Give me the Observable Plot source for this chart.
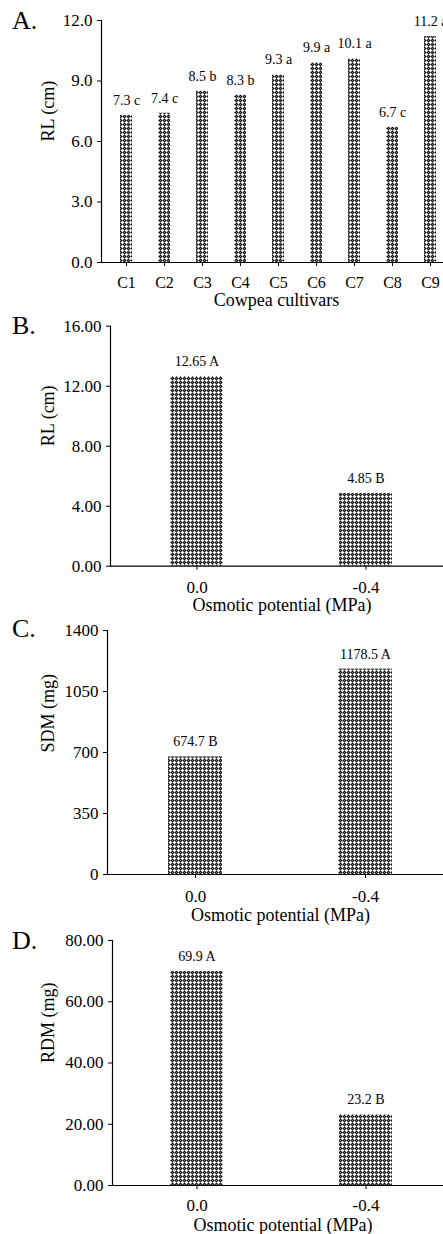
<!DOCTYPE html>
<html><head><meta charset="utf-8">
<script src="https://cdn.jsdelivr.net/npm/d3@7"></script>
<script src="https://cdn.jsdelivr.net/npm/@observablehq/plot@0.6"></script>
<style>
html,body{margin:0;padding:0;background:#fff;}
#root{position:relative;width:443px;height:1234px;overflow:hidden;font-family:"Liberation Serif","Times New Roman",serif;color:#000;}
.panel{position:absolute;left:0;}
.tag{position:absolute;left:12px;font-size:26px;line-height:1;}
</style></head><body><div id="root"></div>
<script>
// ---- data ----
const cultivars = ["C1","C2","C3","C4","C5","C6","C7","C8","C9"];
const rlCultivar = [7.3, 7.4, 8.5, 8.3, 9.3, 9.9, 10.1, 6.7, 11.2];
const rlCultivarGroups = ["c","c","b","b","a","a","a","c","a"];
const osmotic = ["0.0", "-0.4"];
const rlOsmotic = [12.65, 4.85];
const rlOsmoticGroups = ["A", "B"];
const sdmOsmotic = [674.7, 1178.5];
const sdmOsmoticGroups = ["B", "A"];
const rdmOsmotic = [69.9, 23.2];
const rdmOsmoticGroups = ["A", "B"];
const ticksA = [0, 3, 6, 9, 12];
const ticksB = [0, 4, 8, 12, 16];
const ticksC = [0, 350, 700, 1050, 1400];
const ticksD = [0, 20, 40, 60, 80];

const FONT = '"Liberation Serif","Times New Roman",serif';
const root = document.getElementById("root");

function addPattern(svg, id) {
  const defs = d3.select(svg).insert("defs", ":first-child");
  const p = defs.append("pattern").attr("id", id)
    .attr("patternUnits", "userSpaceOnUse").attr("width", 4).attr("height", 4);
  p.append("rect").attr("width", 4).attr("height", 4).attr("fill", "#141414");
  const light = [];
  for (let yy = 0; yy < 4; yy++) for (let xx = 0; xx < 4; xx++) if ((xx + yy) % 2 === 0) light.push([xx, yy]);
  p.selectAll("rect.l").data(light).join("rect").attr("class", "l")
    .attr("x", d => d[0]).attr("y", d => d[1]).attr("width", 1).attr("height", 1)
    .attr("fill", "#707070").attr("shape-rendering", "crispEdges");
  const plus = [[2,1],[1,2],[2,2],[3,2],[2,3]];
  p.selectAll("rect.w").data(plus).join("rect").attr("class", "w")
    .attr("x", d => d[0]).attr("y", d => d[1]).attr("width", 1).attr("height", 1)
    .attr("fill", "#f4f4f4").attr("shape-rendering", "crispEdges");
}

function panel(cfg) {
  const rows = cfg.cats.map((c, i) => ({cat: c, val: cfg.vals[i], lab: cfg.vals[i].toFixed(cfg.digits) + " " + cfg.groups[i]}));
  const svg = Plot.plot({
    width: 443, height: cfg.height,
    marginTop: cfg.mt, marginBottom: cfg.mb, marginLeft: cfg.ml, marginRight: 0,
    style: {fontFamily: FONT, background: "transparent", overflow: "visible", color: "#000"},
    x: {type: "band", domain: cfg.cats, paddingInner: cfg.pi, paddingOuter: cfg.po, align: cfg.align},
    y: {domain: [cfg.ticks[0], cfg.ticks[cfg.ticks.length - 1]]},
    marks: [
      Plot.barY(rows, {x: "cat", y: "val", fill: `url(#${cfg.id})`}),
      Plot.text(rows, {x: "cat", y: "val", text: "lab", dy: -15, fontSize: 14, fill: "#000"}),
      Plot.ruleY([0], {stroke: "#000", strokeWidth: 1.2}),
      Plot.frame({anchor: "left", stroke: "#000", strokeWidth: 1.2}),
      Plot.axisY({ticks: cfg.ticks, tickFormat: cfg.fmt, tickSize: 4, tickPadding: cfg.tpy, label: null, fontSize: 17}),
      Plot.axisX({tickSize: 4, tickPadding: cfg.tpx, label: null, fontSize: cfg.xFont}),
      Plot.text([cfg.yLabel], {frameAnchor: "left", rotate: -90, dx: 47.5 - cfg.ml, fontSize: 18, fill: "#000"}),
      Plot.text([cfg.xLabel], {frameAnchor: "bottom", dx: cfg.xdx, dy: cfg.xdy, fontSize: 18, fill: "#000"})
    ]
  });
  addPattern(svg, cfg.id);
  const div = document.createElement("div");
  div.className = "panel";
  div.style.top = cfg.top + "px";
  div.appendChild(svg);
  root.appendChild(div);
  const tag = document.createElement("div");
  tag.className = "tag";
  tag.style.top = cfg.tagTop + "px";
  tag.textContent = cfg.tag;
  root.appendChild(tag);
}

panel({id: "patA", tag: "A.", tagTop: 8, top: 0, height: 310, mt: 20, mb: 48, ml: 101,
  cats: cultivars, vals: rlCultivar, groups: rlCultivarGroups, digits: 1,
  ticks: ticksA, fmt: d3.format(".1f"), yLabel: "RL (cm)", xLabel: "Cowpea cultivars",
  pi: 0.675, po: 0.279, align: 0.733, tpy: 5, tpx: 10, xFont: 16, xdx: 4, xdy: 43});

panel({id: "patB", tag: "B.", tagTop: 313, top: 310, height: 310, mt: 15.7, mb: 54.3, ml: 110,
  cats: osmotic, vals: rlOsmotic, groups: rlOsmoticGroups, digits: 2,
  ticks: ticksB, fmt: d3.format(".2f"), yLabel: "RL (cm)", xLabel: "Osmotic potential (MPa)",
  pi: 0.688, po: 0.3235, align: 0.54, tpy: 5, tpx: 11, xFont: 17, xdx: 5, xdy: 45});

panel({id: "patC", tag: "C.", tagTop: 616, top: 620, height: 300, mt: 10, mb: 46, ml: 107,
  cats: osmotic, vals: sdmOsmotic, groups: sdmOsmoticGroups, digits: 1,
  ticks: ticksC, fmt: d3.format("d"), yLabel: "SDM (mg)", xLabel: "Osmotic potential (MPa)",
  pi: 0.684, po: 0.3245, align: 0.54, tpy: 5, tpx: 11, xFont: 17, xdx: 5, xdy: 46});

panel({id: "patD", tag: "D.", tagTop: 928, top: 920, height: 314, mt: 20, mb: 49, ml: 112,
  cats: osmotic, vals: rdmOsmotic, groups: rdmOsmoticGroups, digits: 1,
  ticks: ticksD, fmt: d3.format(".2f"), yLabel: "RDM (mg)", xLabel: "Osmotic potential (MPa)",
  pi: 0.686, po: 0.322, align: 0.537, tpy: 5, tpx: 9.5, xFont: 17, xdx: 5, xdy: 45.5});
</script>
</body></html>
